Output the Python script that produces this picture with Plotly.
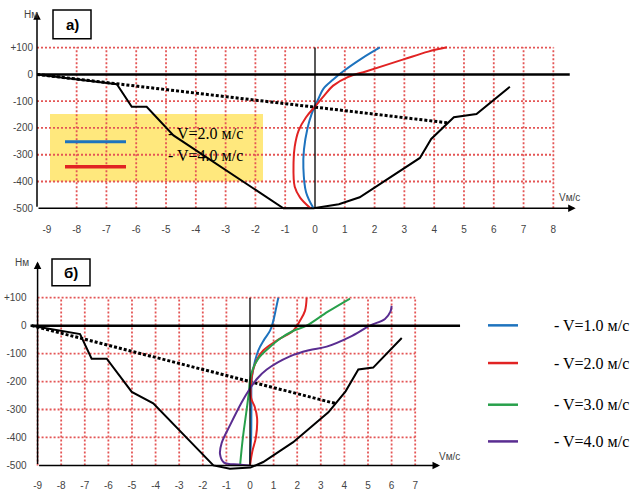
import plotly.graph_objects as go

W, H = 636, 495

# ---------------- data: panel а ----------------
a_black_v = [-9.33, -6.65, -6.15, -5.65, -4.75, -1.06, -0.05, 0.8, 1.5, 2.97, 3.52, 3.9, 4.66, 5.42, 6.54]
a_black_h = [0, -37, -121, -121, -228, -500, -500, -485, -459, -352, -312, -241, -160, -148, -46]
a_dot_v = [-9.33, 4.47]
a_dot_h = [0, -181]
a_v2_v = [-0.05, -0.3, -0.39, -0.37, -0.25, -0.12, 0.0, 0.12, 0.28, 0.6, 0.95, 1.6, 2.18]
a_v2_h = [-500, -440, -350, -280, -200, -150, -117, -90, -54, -20, 12, 62, 101]
a_v4_v = [-0.15, -0.5, -0.68, -0.72, -0.68, -0.55, -0.3, 0.0, 0.3, 0.61, 1.1, 1.73, 2.97, 3.8, 4.43]
a_v4_h = [-500, -460, -420, -330, -270, -210, -160, -120, -80, -42, -10, 12, 56, 85, 101]

# ---------------- data: panel б ----------------
b_black_v = [-9.25, -7.2, -6.71, -6.07, -5.01, -4.1, -1.55, -0.85, 0.02, 0.56, 1.83, 3.32, 4.05, 4.59, 5.22, 6.43]
b_black_h = [0, -30, -118, -118, -237, -278, -500, -512, -508, -488, -417, -310, -235, -157, -150, -44]
b_dot_v = [-9.25, 3.6]
b_dot_h = [0, -278]
b_v1_v = [0.0, 0.02, 0.05, 0.06, 0.07, 0.15, 0.35, 0.6, 0.85, 0.99, 1.1, 1.2]
b_v1_h = [-500, -450, -397, -300, -195, -150, -89, -50, -18, 18, 60, 100]
b_v2_v = [0.0, 0.1, 0.25, 0.3, 0.2, 0.05, 0.05, 0.2, 0.56, 1.2, 1.83, 2.12, 2.33, 2.4]
b_v2_h = [-500, -450, -400, -330, -290, -260, -200, -140, -89, -50, -18, 18, 53, 100]
b_v3_v = [-0.42, -0.3, -0.14, -0.05, 0.0, 0.1, 0.35, 0.8, 1.27, 1.8, 2.4, 3.3, 4.24]
b_v3_h = [-500, -400, -300, -240, -195, -160, -118, -80, -47, -20, 0, 50, 97]
b_v4_v = [0.0, -0.5, -1.1, -1.27, -1.2, -0.85, -0.35, 0.0, 0.3, 0.71, 1.69, 2.5, 3.25, 4.24, 5.08, 5.72, 5.95, 6.0]
b_v4_h = [-500, -497, -490, -460, -420, -357, -274, -225, -190, -157, -110, -88, -75, -40, 0, 24, 50, 71]

# ticks
a_xticks = list(range(-9, 9))
b_xticks = list(range(-9, 8))
yticks = [100, 0, -100, -200, -300, -400, -500]
ytext = ["+100", "0", "-100", "-200", "-300", "-400", "-500"]

a_labels = ["- V=2.0 м/с", "- V=4.0 м/с"]
b_labels = ["- V=1.0 м/с", "- V=2.0 м/с", "- V=3.0 м/с", "- V=4.0 м/с"]

BLUE = "rgb(30,115,190)"
RED = "rgb(225,35,35)"
GREEN = "rgb(40,160,75)"
PURPLE = "rgb(90,45,145)"
GRID = "rgb(228,85,85)"
GRID_DASH = "2px,2px"


def pxx(x):
    return x / W


def pyy(y):
    return 1 - y / H


fig = go.Figure()

# panel a traces
fig.add_trace(go.Scatter(x=a_black_v, y=a_black_h, mode="lines", line=dict(color="black", width=2), xaxis="x", yaxis="y"))
fig.add_trace(go.Scatter(x=a_dot_v, y=a_dot_h, mode="lines", line=dict(color="black", width=3, dash="3px,2px"), xaxis="x", yaxis="y"))
fig.add_trace(go.Scatter(x=a_v2_v, y=a_v2_h, mode="lines", line=dict(color=BLUE, width=2, shape="spline"), xaxis="x", yaxis="y"))
fig.add_trace(go.Scatter(x=a_v4_v, y=a_v4_h, mode="lines", line=dict(color=RED, width=2, shape="spline"), xaxis="x", yaxis="y"))

# panel б traces
fig.add_trace(go.Scatter(x=b_black_v, y=b_black_h, mode="lines", line=dict(color="black", width=2), xaxis="x2", yaxis="y2"))
fig.add_trace(go.Scatter(x=b_dot_v, y=b_dot_h, mode="lines", line=dict(color="black", width=3, dash="3px,2px"), xaxis="x2", yaxis="y2"))
for vv, hh, c in [(b_v1_v, b_v1_h, BLUE), (b_v2_v, b_v2_h, RED), (b_v3_v, b_v3_h, GREEN), (b_v4_v, b_v4_h, PURPLE)]:
    fig.add_trace(go.Scatter(x=vv, y=hh, mode="lines", line=dict(color=c, width=2, shape="spline"), xaxis="x2", yaxis="y2"))

shapes = []
# yellow legend box a
shapes.append(dict(type="rect", xref="paper", yref="paper", x0=pxx(50), x1=pxx(263), y0=pyy(183), y1=pyy(115),
                   fillcolor="rgb(255,232,125)", line=dict(width=0), layer="below"))

# grids
for xr, yr, xs, x0, x1 in [("x", "y", [t for t in a_xticks if t != -9], -9.33, 8), ("x2", "y2", b_xticks, -9, 7)]:
    for v in xs:
        if v == 0:
            continue
        shapes.append(dict(type="line", xref=xr, yref=yr, x0=v, x1=v, y0=-500, y1=100,
                           line=dict(color=GRID, width=1.8, dash=GRID_DASH), layer="below"))
    for h in yticks:
        if h in (0, -500):
            continue
        shapes.append(dict(type="line", xref=xr, yref=yr, x0=x0, x1=x1, y0=h, y1=h,
                           line=dict(color=GRID, width=1.8, dash=GRID_DASH), layer="below"))

# zero lines and V=0 line
shapes.append(dict(type="line", xref="x", yref="y", x0=-9.4, x1=8.55, y0=0, y1=0, line=dict(color="black", width=2.5)))
shapes.append(dict(type="line", xref="x", yref="y", x0=0, x1=0, y0=-500, y1=100, line=dict(color="black", width=1.3)))
shapes.append(dict(type="line", xref="x2", yref="y2", x0=-9.35, x1=8.9, y0=0, y1=0, line=dict(color="black", width=2.5)))
shapes.append(dict(type="line", xref="x2", yref="y2", x0=0, x1=0, y0=-500, y1=100, line=dict(color="black", width=1.3)))

# legend swatches
shapes.append(dict(type="line", xref="paper", yref="paper", x0=pxx(65), x1=pxx(126), y0=pyy(143), y1=pyy(143), line=dict(color=BLUE, width=3)))
shapes.append(dict(type="line", xref="paper", yref="paper", x0=pxx(65), x1=pxx(126), y0=pyy(168), y1=pyy(168), line=dict(color=RED, width=3.5)))
for yy, c in zip([328, 366, 408, 445], [BLUE, RED, GREEN, PURPLE]):
    shapes.append(dict(type="line", xref="paper", yref="paper", x0=pxx(488), x1=pxx(518), y0=pyy(yy), y1=pyy(yy), line=dict(color=c, width=2.5)))

# panel label boxes
shapes.append(dict(type="rect", xref="paper", yref="paper", x0=pxx(53), x1=pxx(91), y0=pyy(39), y1=pyy(10), line=dict(color="black", width=1.5), fillcolor="white"))
shapes.append(dict(type="rect", xref="paper", yref="paper", x0=pxx(52), x1=pxx(90), y0=pyy(288), y1=pyy(261), line=dict(color="black", width=1.5), fillcolor="white"))

ann = []
# axis arrows
ann.append(dict(xref="x", yref="y", axref="x", ayref="y", x=8.75, y=-500, ax=-9.33, ay=-500, showarrow=True, arrowhead=2, arrowwidth=1.5, arrowsize=1, arrowcolor="black", text=""))
ann.append(dict(xref="x", yref="y", axref="x", ayref="y", x=-9.33, y=232, ax=-9.33, ay=-500, showarrow=True, arrowhead=2, arrowwidth=1.5, arrowsize=1, arrowcolor="black", text=""))
ann.append(dict(xref="x2", yref="y2", axref="x2", ayref="y2", x=8.05, y=-500, ax=-9.0, ay=-500, showarrow=True, arrowhead=2, arrowwidth=1.5, arrowsize=1, arrowcolor="black", text=""))
ann.append(dict(xref="x2", yref="y2", axref="x2", ayref="y2", x=-9.0, y=230, ax=-9.0, ay=-500, showarrow=True, arrowhead=2, arrowwidth=1.5, arrowsize=1, arrowcolor="black", text=""))

small = dict(family="Liberation Sans Narrow, Liberation Sans, Arial", size=10, color="#444")
serif = dict(family="Liberation Serif, Times New Roman, serif", size=16, color="black")
ann.append(dict(xref="paper", yref="paper", x=pxx(40), y=pyy(15), text="Hм", showarrow=False, xanchor="right", yanchor="middle", font=small))
ann.append(dict(xref="paper", yref="paper", x=pxx(31), y=pyy(265), text="Hм", showarrow=False, xanchor="right", yanchor="middle", font=small))
ann.append(dict(xref="paper", yref="paper", x=pxx(569), y=pyy(199), text="Vм/с", showarrow=False, xanchor="center", yanchor="middle", font=small))
ann.append(dict(xref="paper", yref="paper", x=pxx(449), y=pyy(460), text="Vм/с", showarrow=False, xanchor="center", yanchor="middle", font=small))

ann.append(dict(xref="paper", yref="paper", x=pxx(72), y=pyy(25), text="<b>а)</b>", showarrow=False, xanchor="center", yanchor="middle", font=dict(family="Liberation Sans, Arial", size=15, color="black")))
ann.append(dict(xref="paper", yref="paper", x=pxx(71), y=pyy(275), text="<b>б)</b>", showarrow=False, xanchor="center", yanchor="middle", font=dict(family="Liberation Sans, Arial", size=15, color="black")))

for t, yy in zip(a_labels, [135, 157]):
    ann.append(dict(xref="paper", yref="paper", x=pxx(166), y=pyy(yy), text=t, showarrow=False, xanchor="left", yanchor="middle", font=serif))
for t, yy in zip(b_labels, [328, 366, 408, 445]):
    ann.append(dict(xref="paper", yref="paper", x=pxx(552), y=pyy(yy), text=t, showarrow=False, xanchor="left", yanchor="middle", font=serif))

tickfont = dict(family="Liberation Sans Narrow, Liberation Sans, Arial", size=10, color="#444")

fig.update_layout(
    width=W, height=H,
    margin=dict(l=0, r=0, t=0, b=0),
    paper_bgcolor="white", plot_bgcolor="rgba(0,0,0,0)",
    showlegend=False,
    shapes=shapes, annotations=ann,
    xaxis=dict(domain=[37 / W, 577.2 / W], range=[-9.33, 8.8], anchor="y",
               tickvals=a_xticks, ticktext=[str(t) for t in a_xticks],
               showgrid=False, zeroline=False, showline=False,
               ticks="outside", ticklen=10, tickcolor="rgba(0,0,0,0)", tickfont=tickfont, fixedrange=True),
    yaxis=dict(domain=[pyy(211.6), pyy(11.55)], range=[-506, 235], anchor="x",
               tickvals=yticks, ticktext=ytext,
               showgrid=False, zeroline=False, showline=False,
               ticks="outside", ticklen=1, tickcolor="rgba(0,0,0,0)", tickfont=tickfont, fixedrange=True),
    xaxis2=dict(domain=[30.5 / W, 462.4 / W], range=[-9.3, 9.0], anchor="y2",
                tickvals=b_xticks, ticktext=[str(t) for t in b_xticks],
                showgrid=False, zeroline=False, showline=False,
                ticks="outside", ticklen=5, tickcolor="rgba(0,0,0,0)", tickfont=tickfont, fixedrange=True),
    yaxis2=dict(domain=[pyy(474.8), pyy(262.95)], range=[-520, 232], anchor="x2",
                tickvals=yticks, ticktext=ytext,
                showgrid=False, zeroline=False, showline=False,
                ticks="outside", ticklen=1, tickcolor="rgba(0,0,0,0)", tickfont=tickfont, fixedrange=True),
)

fig.write_html("out.html", config={"displayModeBar": False},
               post_script="document.body.style.margin='0';document.body.style.overflow='hidden';")
